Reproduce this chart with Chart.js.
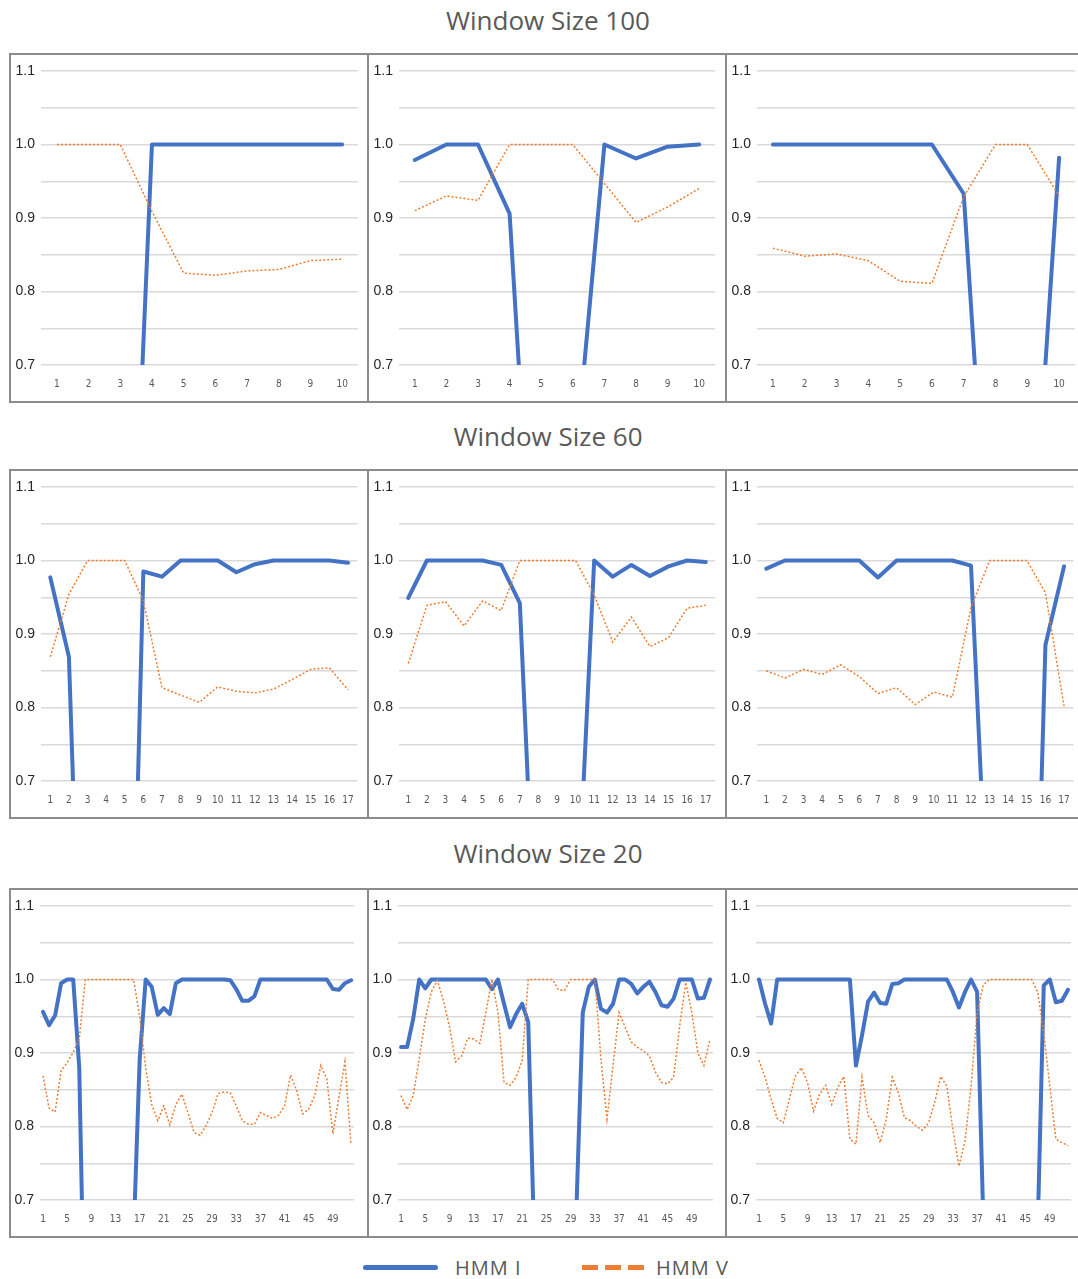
<!DOCTYPE html>
<html>
<head>
<meta charset="utf-8">
<script src="https://cdn.jsdelivr.net/npm/chart.js@4.4.0/dist/chart.umd.min.js"></script>
<style>
  body { margin: 0; width: 1078px; height: 1279px; overflow: hidden; background: #fff; position: relative; font-family: "Open Sans", sans-serif; }
  .title { position: absolute; left: 348px; width: 400px; text-align: center; font-size: 26px; line-height: 30px; color: #595959; }
  .box { position: absolute; width: 360px; height: 350px; border: 2px solid #8c8c8c; box-sizing: border-box; background: #fff; }
  .box canvas { position: absolute; left: 0; top: 0; }
  .leg-text { position: absolute; top: 1254px; font-size: 20px; line-height: 28px; color: #595959; letter-spacing: 1px; }
  .leg-blue { position: absolute; left: 363px; top: 1265px; width: 75px; height: 5px; border-radius: 3px; background: #4472C4; }
  .leg-dash { position: absolute; top: 1265px; width: 16px; height: 5px; background: #ED7D31; }
</style>
</head>
<body>
<div class="title" style="top:5px">Window Size 100</div>
<div class="title" style="top:421px">Window Size 60</div>
<div class="title" style="top:838px">Window Size 20</div>
<div id="panels"></div>

<div class="leg-blue"></div>
<div class="leg-text" style="left:455px">HMM I</div>
<div class="leg-dash" style="left:582px"></div>
<div class="leg-dash" style="left:605px"></div>
<div class="leg-dash" style="left:628px"></div>
<div class="leg-text" style="left:656px">HMM V</div>

<script>
// categories
var labels10 = ["1", "2", "3", "4", "5", "6", "7", "8", "9", "10"];
var labels17 = ["1", "2", "3", "4", "5", "6", "7", "8", "9", "10", "11", "12", "13", "14", "15", "16", "17"];
var labels52 = ["1", "2", "3", "4", "5", "6", "7", "8", "9", "10", "11", "12", "13", "14", "15", "16", "17", "18", "19", "20",
  "21", "22", "23", "24", "25", "26", "27", "28", "29", "30", "31", "32", "33", "34", "35", "36", "37", "38", "39", "40",
  "41", "42", "43", "44", "45", "46", "47", "48", "49", "50", "51", "52"];

// window size 100
var hmmI_100a = [0, 0, 0, 1.0, 1.0, 1.0, 1.0, 1.0, 1.0, 1.0];
var hmmV_100a = [1.0, 1.0, 1.0, 0.909, 0.825, 0.822, 0.828, 0.830, 0.842, 0.844];
var hmmI_100b = [0.979, 1.0, 1.0, 0.906, 0.2, 0.53, 1.0, 0.981, 0.997, 1.0];
var hmmV_100b = [0.910, 0.930, 0.924, 1.0, 1.0, 1.0, 0.947, 0.894, 0.915, 0.940];
var hmmI_100c = [1.0, 1.0, 1.0, 1.0, 1.0, 1.0, 0.933, 0.27, 0.33, 0.982];
var hmmV_100c = [0.859, 0.848, 0.851, 0.842, 0.814, 0.811, 0.929, 1.0, 1.0, 0.930];

// window size 60
var hmmI_60a = [0.977, 0.869, 0.1, 0, 0, 0.985, 0.978, 1.0, 1.0, 1.0, 0.984, 0.995, 1.0, 1.0, 1.0, 1.0, 0.997];
var hmmV_60a = [0.869, 0.954, 1.0, 1.0, 1.0, 0.945, 0.827, 0.817, 0.807, 0.828, 0.822, 0.820, 0.825, 0.838, 0.852, 0.854, 0.824];
var hmmI_60b = [0.949, 1.0, 1.0, 1.0, 1.0, 0.994, 0.942, 0.38, 0.4, 0.47, 1.0, 0.978, 0.994, 0.979, 0.992, 1.0, 0.998];
var hmmV_60b = [0.860, 0.939, 0.944, 0.911, 0.945, 0.932, 1.0, 1.0, 1.0, 1.0, 0.953, 0.889, 0.923, 0.883, 0.895, 0.935, 0.939];
var hmmI_60c = [0.989, 1.0, 1.0, 1.0, 1.0, 1.0, 0.977, 1.0, 1.0, 1.0, 1.0, 0.993, 0.45, 0.3, 0, 0.885, 0.992];
var hmmV_60c = [0.850, 0.840, 0.852, 0.845, 0.858, 0.842, 0.819, 0.827, 0.804, 0.821, 0.814, 0.936, 1.0, 1.0, 1.0, 0.956, 0.802];

// window size 20
var hmmI_20a = [0.956, 0.938, 0.951, 0.995, 1.0, 1.0, 0.88, 0.47, 0, 0,
  0, 0, 0, 0, 0, 0.65, 0.89, 1.0, 0.99, 0.952,
  0.961, 0.953, 0.995, 1.0, 1.0, 1.0, 1.0, 1.0, 1.0, 1.0,
  1.0, 0.999, 0.987, 0.971, 0.971, 0.977, 1.0, 1.0, 1.0, 1.0,
  1.0, 1.0, 1.0, 1.0, 1.0, 1.0, 1.0, 1.0, 0.987, 0.986,
  0.995, 0.999];
var hmmV_20a = [0.869, 0.825, 0.820, 0.876, 0.887, 0.901, 0.919, 1.0, 1.0, 1.0,
  1.0, 1.0, 1.0, 1.0, 1.0, 1.0, 0.95, 0.88, 0.83, 0.808,
  0.828, 0.802, 0.83, 0.844, 0.819, 0.792, 0.788, 0.801, 0.819, 0.845,
  0.847, 0.846, 0.828, 0.808, 0.803, 0.803, 0.819, 0.815, 0.811, 0.815,
  0.828, 0.870, 0.849, 0.817, 0.824, 0.842, 0.883, 0.865, 0.79, 0.84,
  0.888, 0.775];
var hmmI_20b = [0.908, 0.908, 0.946, 1.0, 0.988, 1.0, 1.0, 1.0, 1.0, 1.0,
  1.0, 1.0, 1.0, 1.0, 1.0, 0.987, 1.0, 0.967, 0.935, 0.953,
  0.967, 0.942, 0.64, 0, 0, 0, 0, 0, 0, 0.7,
  0.955, 0.99, 1.0, 0.96, 0.955, 0.967, 1.0, 1.0, 0.994, 0.981,
  0.99, 0.997, 0.983, 0.965, 0.963, 0.974, 1.0, 1.0, 1.0, 0.974,
  0.975, 1.0];
var hmmV_20b = [0.842, 0.823, 0.842, 0.892, 0.946, 0.983, 0.999, 0.971, 0.936, 0.888,
  0.896, 0.920, 0.919, 0.913, 0.955, 1.0, 0.955, 0.86, 0.856, 0.867,
  0.89, 1.0, 1.0, 1.0, 1.0, 1.0, 0.986, 0.985, 1.0, 1.0,
  1.0, 1.0, 1.0, 0.892, 0.81, 0.883, 0.955, 0.935, 0.915, 0.908,
  0.903, 0.896, 0.874, 0.86, 0.858, 0.867, 0.937, 0.996, 0.955, 0.9,
  0.883, 0.919];
var hmmI_20c = [1.0, 0.967, 0.94, 1.0, 1.0, 1.0, 1.0, 1.0, 1.0, 1.0,
  1.0, 1.0, 1.0, 1.0, 1.0, 1.0, 0.883, 0.924, 0.970, 0.982,
  0.968, 0.967, 0.994, 0.995, 1.0, 1.0, 1.0, 1.0, 1.0, 1.0,
  1.0, 1.0, 0.983, 0.962, 0.983, 1.0, 0.983, 0.68, 0, 0,
  0, 0, 0, 0, 0, 0, 0.66, 0.992, 1.0, 0.969,
  0.971, 0.986];
var hmmV_20c = [0.89, 0.867, 0.837, 0.811, 0.805, 0.837, 0.869, 0.88, 0.86, 0.821,
  0.844, 0.856, 0.83, 0.853, 0.868, 0.783, 0.776, 0.867, 0.815, 0.805,
  0.778, 0.81, 0.867, 0.846, 0.812, 0.808, 0.80, 0.795, 0.805, 0.833,
  0.868, 0.855, 0.796, 0.746, 0.78, 0.855, 0.955, 0.992, 1.0, 1.0,
  1.0, 1.0, 1.0, 1.0, 1.0, 1.0, 0.983, 0.928, 0.855, 0.783,
  0.778, 0.774];

var colLeft = [9, 367, 725];
var rowTop = [53, 469, 888];

var panels = [
  { row: 0, col: 0, labels: labels10, a: hmmI_100a, b: hmmV_100a },
  { row: 0, col: 1, labels: labels10, a: hmmI_100b, b: hmmV_100b },
  { row: 0, col: 2, labels: labels10, a: hmmI_100c, b: hmmV_100c },
  { row: 1, col: 0, labels: labels17, a: hmmI_60a, b: hmmV_60a },
  { row: 1, col: 1, labels: labels17, a: hmmI_60b, b: hmmV_60b },
  { row: 1, col: 2, labels: labels17, a: hmmI_60c, b: hmmV_60c },
  { row: 2, col: 0, labels: labels52, a: hmmI_20a, b: hmmV_20a },
  { row: 2, col: 1, labels: labels52, a: hmmI_20b, b: hmmV_20b },
  { row: 2, col: 2, labels: labels52, a: hmmI_20c, b: hmmV_20c },
];

var holder = document.getElementById("panels");

panels.forEach(function (p) {
  var box = document.createElement("div");
  box.className = "box";
  box.style.left = colLeft[p.col] + "px";
  box.style.top = rowTop[p.row] + "px";
  var canvas = document.createElement("canvas");
  canvas.width = 356;
  canvas.height = 346;
  box.appendChild(canvas);
  holder.appendChild(box);

  var dense = p.labels.length > 20;
  var yWidth = dense ? 29 : 30;
  var padRight = dense ? [13, 12, 12][p.col] : [9, 10, 8][p.col];

  new Chart(canvas.getContext("2d"), {
    type: "line",
    data: {
      labels: p.labels,
      datasets: [
        {
          label: "HMM V",
          data: p.b,
          borderColor: "#ED7D31",
          borderWidth: 1.5,
          borderDash: [2, 2],
          pointRadius: 0,
          tension: 0,
          fill: false,
          order: 0,
        },
        {
          label: "HMM I",
          data: p.a,
          borderColor: "#4472C4",
          borderWidth: 4,
          borderJoinStyle: "round",
          borderCapStyle: "round",
          pointRadius: 0,
          tension: 0,
          fill: false,
          order: 1,
        },
      ],
    },
    options: {
      responsive: false,
      animation: false,
      layout: { padding: { top: 16, right: padRight, left: 0, bottom: 0 } },
      plugins: { legend: { display: false }, tooltip: { enabled: false } },
      scales: {
        x: {
          offset: true,
          grid: { display: false, drawTicks: false },
          border: { display: false },
          afterFit: function (scale) { scale.height = 36; },
          ticks: {
            autoSkip: false,
            maxRotation: 0,
            padding: 13,
            color: "#595959",
            font: { family: "DejaVu Sans Condensed", size: 10 },
            callback: function (value, index) {
              if (dense && index % 4 !== 0) return "";
              return this.getLabelForValue(value);
            },
          },
        },
        y: {
          min: 0.7,
          max: 1.1,
          grid: { color: "#d9d9d9", lineWidth: 1.5, drawTicks: false },
          border: { display: false },
          afterFit: function (scale) { scale.width = yWidth; },
          ticks: {
            stepSize: 0.05,
            padding: 6,
            color: "#262626",
            font: { family: "Liberation Sans", size: 14 },
            callback: function (value) {
              var v = Math.round(value * 100);
              return v % 10 === 0 ? (v / 100).toFixed(1) : "";
            },
          },
        },
      },
    },
  });
});
</script>
</body>
</html>
